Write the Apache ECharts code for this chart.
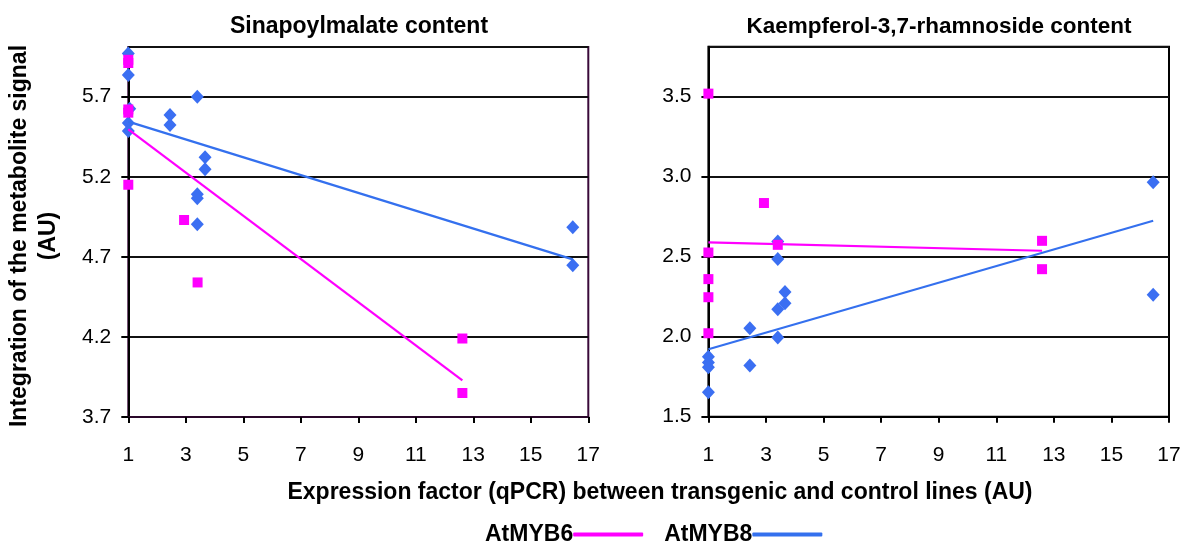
<!DOCTYPE html>
<html>
<head>
<meta charset="utf-8">
<script src="https://cdn.jsdelivr.net/npm/echarts@6/dist/echarts.min.js"></script>
<style>
  html, body { margin: 0; padding: 0; background: #fff; }
  #chart { width: 1180px; height: 543px; }
</style>
</head>
<body>
<div id="chart"></div>
<script>
// Sinapoylmalate content: [expression factor, metabolite signal]
const sinapoylMYB6 = [
  [1, 5.93], [1, 5.91], [1, 5.62], [1, 5.60], [1, 5.15],
  [2.94, 4.93], [3.41, 4.54], [12.62, 4.19], [12.62, 3.85]
];
const sinapoylMYB8 = [
  [1, 5.97], [1, 5.835], [1.05, 5.625], [1, 5.535], [1, 5.485],
  [2.45, 5.586], [2.45, 5.523], [3.40, 5.70], [3.67, 5.321], [3.67, 5.246],
  [3.40, 5.09], [3.40, 5.065], [3.40, 4.904], [16.46, 4.884], [16.46, 4.648]
];
// trend lines (start / end)
const sinapoylTrendMYB6 = [[1, 5.496], [12.62, 3.929]];
const sinapoylTrendMYB8 = [[1, 5.544], [16.46, 4.684]];

// Kaempferol-3,7-rhamnoside content
const kaempMYB6 = [
  [1, 3.517], [2.93, 2.834], [3.41, 2.573], [1, 2.525], [1, 2.359],
  [1, 2.246], [1, 2.021], [12.59, 2.598], [12.59, 2.421]
];
const kaempMYB8 = [
  [3.41, 2.594], [3.41, 2.484], [3.66, 2.278], [3.66, 2.209], [3.41, 2.171],
  [2.44, 2.052], [3.41, 1.994], [1, 1.875], [1, 1.838], [1, 1.809],
  [2.44, 1.819], [1, 1.653], [16.45, 2.963], [16.45, 2.261]
];
const kaempTrendMYB6 = [[1, 2.588], [12.59, 2.536]];
const kaempTrendMYB8 = [[1, 1.921], [16.45, 2.723]];

// axis ranges and labels
const xRange = { min: 1, max: 17, step: 2 };
const leftYRange = { min: 3.7, max: 6.01, step: 0.5 };
const rightYRange = { min: 1.5, max: 3.81, step: 0.5 };

const panelTitles = ['Sinapoylmalate content', 'Kaempferol-3,7-rhamnoside content'];
const yTitle = 'Integration of the metabolite signal\n(AU)';
const xTitle = 'Expression factor (qPCR) between transgenic and control lines (AU)';
const seriesNames = ['AtMYB6', 'AtMYB8'];

const PINK = '#ff00ff';
const BLUE_MARK = '#3b6ff2';
const BLUE_LINE = '#3470ee';
const FONT = '"Liberation Sans", Arial, Helvetica, sans-serif';
const BOLD = 23;
const TICK = 21;

const chart = echarts.init(document.getElementById('chart'), null, { renderer: 'canvas' });

function xAxisFor(gridIndex, lineColor) {
  return {
    type: 'value', gridIndex,
    min: xRange.min, max: xRange.max, interval: xRange.step,
    axisLine: { show: true, onZero: false, lineStyle: { color: lineColor, width: 2 } },
    axisTick: { show: true, length: 6, lineStyle: { color: '#000', width: 2 } },
    axisLabel: { color: '#000', fontSize: TICK, fontFamily: FONT, margin: 28 },
    splitLine: { show: false }
  };
}

function yAxisFor(gridIndex, range, lineColor, topColor) {
  const n = Math.round((range.max - range.min) / range.step) + 1;
  const colors = [];
  for (let i = 0; i < n + 1; i++) colors.push(i === n ? topColor : '#111');
  return {
    type: 'value', gridIndex,
    min: range.min, max: range.max, interval: range.step,
    axisLine: { show: true, onZero: false, lineStyle: { color: lineColor, width: 2 } },
    axisTick: { show: true, length: 7, lineStyle: { color: '#000', width: 2 } },
    axisLabel: {
      color: '#000', fontSize: TICK, fontFamily: FONT, margin: 17,
      showMaxLabel: false,
      formatter: v => v.toFixed(1)
    },
    splitLine: { show: true, lineStyle: { color: colors, width: 2 } }
  };
}

function scatter(name, data, idx, symbol, size, color) {
  return {
    name, type: 'scatter', xAxisIndex: idx, yAxisIndex: idx,
    data, symbol, symbolSize: size,
    itemStyle: { color, opacity: 1 },
    silent: true
  };
}

function trend(name, data, idx, color) {
  return {
    name, type: 'line', xAxisIndex: idx, yAxisIndex: idx,
    data, showSymbol: false, symbol: 'none',
    lineStyle: { color, width: 2.2 },
    itemStyle: { color },
    silent: true
  };
}

const option = {
  animation: false,
  backgroundColor: '#fff',
  textStyle: { fontFamily: FONT },
  title: [
    { text: panelTitles[0], left: 354, top: 10, textAlign: 'center',
      textStyle: { fontSize: BOLD, fontWeight: 'bold', color: '#000', fontFamily: FONT } },
    { text: panelTitles[1], left: 934, top: 10, textAlign: 'center',
      textStyle: { fontSize: 22.5, fontWeight: 'bold', color: '#000', fontFamily: FONT } }
  ],
  grid: [
    { left: 128.3, top: 47, width: 460, height: 370, outerBoundsMode: 'none',
      show: true, borderColor: '#3a0a3a', borderWidth: 2, backgroundColor: 'transparent' },
    { left: 708.4, top: 46.7, width: 460.6, height: 370, outerBoundsMode: 'none',
      show: true, borderColor: '#000', borderWidth: 2, backgroundColor: 'transparent' }
  ],
  xAxis: [xAxisFor(0, '#2a082a'), xAxisFor(1, '#000')],
  yAxis: [
    yAxisFor(0, leftYRange, '#000', '#3a0a3a'),
    yAxisFor(1, rightYRange, '#000', '#000')
  ],
  legend: {
    data: seriesNames,
    left: 480, top: 518,
    align: 'right',
    icon: 'roundRect',
    itemWidth: 70, itemHeight: 4, itemGap: 21,
    textStyle: { fontSize: BOLD, fontWeight: 'bold', color: '#000', fontFamily: FONT, padding: [0, -5, 0, 0] },
    selectedMode: false
  },
  graphic: [
    { type: 'text', x: 34, y: 236, rotation: Math.PI / 2,
      style: { text: yTitle, font: 'bold ' + BOLD + 'px ' + FONT, fill: '#000',
               textAlign: 'center', textVerticalAlign: 'middle', lineHeight: 29 } },
    { type: 'text', x: 660, y: 493,
      style: { text: xTitle, font: 'bold ' + BOLD + 'px ' + FONT, fill: '#000',
               textAlign: 'center', textVerticalAlign: 'middle' } }
  ],
  series: [
    scatter('AtMYB8 points', sinapoylMYB8, 0, 'diamond', [13, 14], BLUE_MARK),
    scatter('AtMYB6 points', sinapoylMYB6, 0, 'rect', 10, PINK),
    trend(seriesNames[0], sinapoylTrendMYB6, 0, PINK),
    trend(seriesNames[1], sinapoylTrendMYB8, 0, BLUE_LINE),
    scatter('AtMYB8 points', kaempMYB8, 1, 'diamond', [13, 14], BLUE_MARK),
    scatter('AtMYB6 points', kaempMYB6, 1, 'rect', 10, PINK),
    trend(seriesNames[0], kaempTrendMYB6, 1, PINK),
    trend(seriesNames[1], kaempTrendMYB8, 1, BLUE_LINE)
  ]
};

chart.setOption(option);
</script>
</body>
</html>
